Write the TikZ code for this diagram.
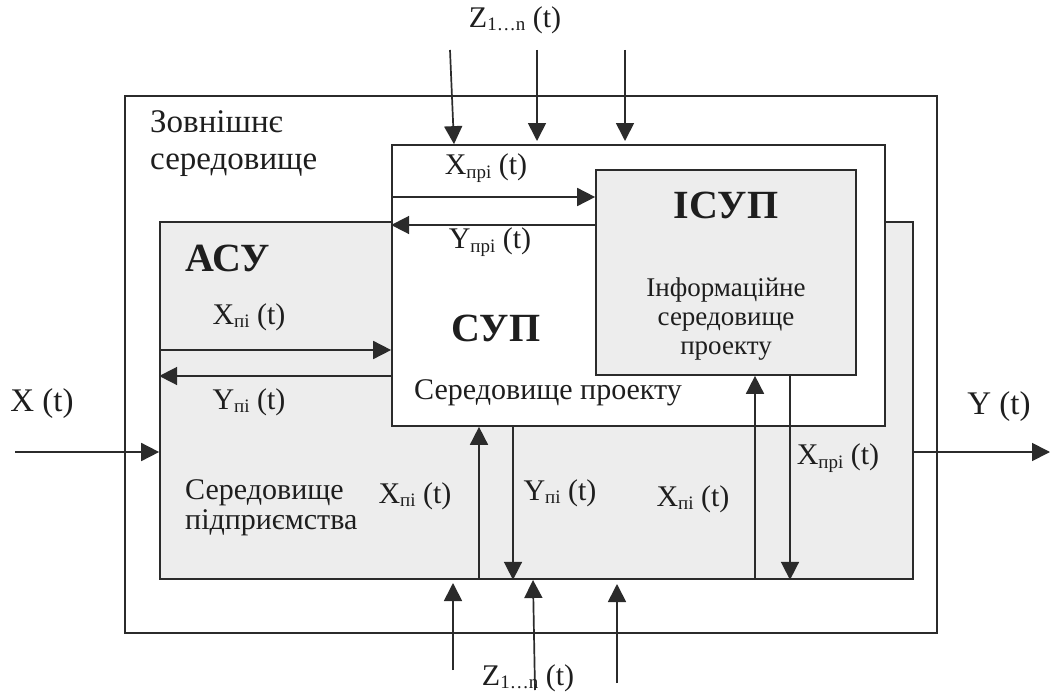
\documentclass[tikz,border=0pt]{standalone}
\usepackage{fontspec}
\setmainfont{Liberation Serif}
\usetikzlibrary{arrows.meta}
\definecolor{linec}{HTML}{2B2B2B}
\definecolor{textc}{HTML}{1E1E1E}
\definecolor{grayfill}{HTML}{EDEDED}
\newcommand{\sbs}[1]{\raisebox{-3.5pt}{\fontsize{19}{19}\selectfont #1}}
\begin{document}
\begin{tikzpicture}[x=1pt,y=-1pt,
  box/.style={draw=linec, line width=1.7pt, inner sep=0pt, rectangle},
  arr/.style={draw=linec, line width=1.7pt, -{Triangle[length=18pt,width=18pt]}},
  lbl/.style={font=\fontsize{30}{32}\selectfont, text=textc, inner sep=0pt},
  lblb/.style={font=\fontsize{33}{36}\selectfont, text=textc, inner sep=0pt},
  big/.style={font=\fontsize{40}{42}\selectfont\bfseries, text=textc, inner sep=0pt}]
\useasboundingbox (0,0) rectangle (1052,693);
\fill[white] (0,0) rectangle (1052,693);
% boxes
\node[box, fill=white, minimum width=812pt, minimum height=537pt] (outer) at (531,364.5) {};
\node[box, fill=grayfill, minimum width=753pt, minimum height=357pt] (asu) at (536.5,400.5) {};
\node[box, fill=white, minimum width=493pt, minimum height=281pt] (sup) at (638.5,285.5) {};
\node[box, fill=grayfill, minimum width=260pt, minimum height=205pt] (isup) at (726,272.5) {};
% coordinates for free ends
\coordinate (zt1) at (450,50);
\coordinate (zt2) at (537,50);
\coordinate (zt3) at (625,50);
\coordinate (zb1) at (453,670);
\coordinate (zb2) at (535,690);
\coordinate (zb3) at (617,683);
\coordinate (xin) at (15,452);
\coordinate (yout) at (1050,452);
% top Z arrows
\draw[arr] (zt1) -- (sup.north -| 454,0);
\draw[arr] (zt2) -- (537,141);
\draw[arr] (zt3) -- (625,141);
% bottom Z arrows
\draw[arr] (zb1) -- (453,583);
\draw[arr] (zb2) -- (533,580);
\draw[arr] (zb3) -- (617,584);
% X, Y
\draw[arr] (xin) -- (asu.west |- xin);
\draw[arr] (asu.east |- yout) -- (yout);
% SUP <-> ISUP
\draw[arr] (sup.west |- 0,197) -- (isup.west |- 0,197);
\draw[arr] (isup.west |- 0,225) -- (sup.west |- 0,225);
% ASU <-> SUP
\draw[arr] (asu.west |- 0,350) -- (sup.west |- 0,350);
\draw[arr] (sup.west |- 0,376) -- (asu.west |- 0,376);
% bottom verticals
\draw[arr] (asu.south -| 479,0) -- (sup.south -| 479,0);
\draw[arr] (sup.south -| 513,0) -- (asu.south -| 513,0);
\draw[arr] (asu.south -| 755,0) -- (isup.south -| 755,0);
\draw[arr] (isup.south -| 790,0) -- (asu.south -| 790,0);
% labels
\node[lbl] (zt) at (515,20) {Z\sbs{1…n} (t)};
\node[lbl] (zb) at (528,678) {Z\sbs{1…n} (t)};
\node[lblb, anchor=west, align=left, font=\fontsize{33}{37}\selectfont] (ext) at (150,144) {Зовнішнє\\середовище};
\node[lbl, anchor=west, align=left, font=\fontsize{30}{30}\selectfont] (ent) at (185,508) {Середовище\\підприємства};
\node[lblb] (xt) at (42,404) {X (t)};
\node[lblb] (yt) at (999,407) {Y (t)};
\node[big] (asul) at (228,258) {АСУ};
\node[big] (supl) at (496,328) {СУП};
\node[big] (isupl) at (726,205) {ІСУП};
\node[lbl] (supt) at (548,393) {Середовище проекту};
\node[lbl, align=center, font=\fontsize{27}{29}\selectfont] (isupt) at (726,319) {Інформаційне\\середовище\\проекту};
\node[lbl] (xpri1) at (486,168) {X\sbs{прі} (t)};
\node[lbl] (ypri1) at (490,242) {Y\sbs{прі} (t)};
\node[lbl] (xpi1) at (249,317) {X\sbs{пі} (t)};
\node[lbl] (ypi1) at (249,402) {Y\sbs{пі} (t)};
\node[lbl] (xpi2) at (415,496) {X\sbs{пі} (t)};
\node[lbl] (ypi2) at (560,493) {Y\sbs{пі} (t)};
\node[lbl] (xpi3) at (693,499) {X\sbs{пі} (t)};
\node[lbl] (xpri2) at (838,458) {X\sbs{прі} (t)};
\end{tikzpicture}
\end{document}
